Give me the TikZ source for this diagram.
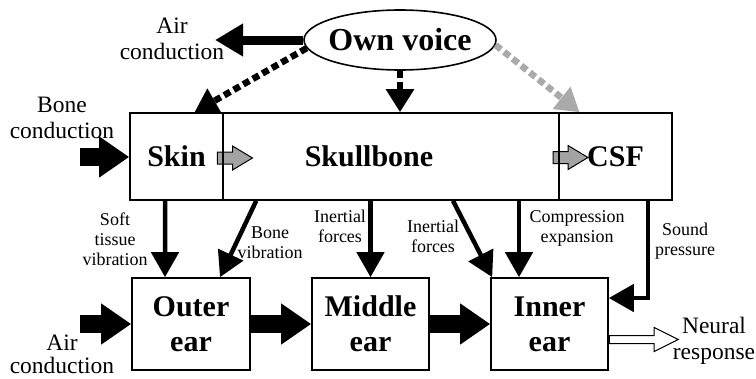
\documentclass[tikz,border=0pt]{standalone}
\usepackage{fontspec}
\setmainfont{Liberation Serif}
\usepackage{tikz}
\usetikzlibrary{arrows.meta,positioning,shapes.geometric,shapes.arrows}
\usepackage{xcolor}
\definecolor{flowgrey}{HTML}{A3A3A3}
\definecolor{dashgrey}{HTML}{AAAAAA}

\begin{document}
\begin{tikzpicture}[
  x=1bp, y=-1bp,
  every node/.style={inner sep=0pt},
  part/.style={draw, line width=1.6bp, align=center, font=\bfseries\fontsize{30bp}{35bp}\selectfont},
  path label/.style={align=center, font=\fontsize{18bp}{20bp}\selectfont},
  side label/.style={align=center, font=\fontsize{23.5bp}{26bp}\selectfont},
  conn/.style={line width=4.5bp, -{Triangle[length=25bp, width=27bp]}},
  block/.style={line width=18bp, -{Triangle[length=30bp, width=39bp]}},
  dashconn/.style={line width=6.5bp, dash pattern=on 7bp off 4bp, -{Triangle[length=23bp, width=27bp]}},
  flow/.style={single arrow, draw, line width=1bp, fill=flowgrey, text height=11bp,
    single arrow head extend=6bp, single arrow tip angle=62, minimum height=35bp}
]
  \useasboundingbox (0,0) rectangle (756,378);

  % gray transfer arrows (under the dividers)
  \node[flow] (skin2skull) at (230,158) {};
  \node[flow] (skull2csf) at (565.5,157.5) {};

  % source
  \node[ellipse, draw, line width=1.6bp, minimum width=192bp, minimum height=60bp,
        font=\bfseries\fontsize{32bp}{32bp}\selectfont] (voice) at (400,40) {\makebox[120bp]{Own voice}};

  % head tissues
  \node[part, minimum width=93bp, minimum height=87bp] (skin) at (176.5,156.5) {Skin};
  \node[part, minimum width=336bp, minimum height=87bp,
        label={[name=skulltxt, font=\bfseries\fontsize{30bp}{35bp}\selectfont, xshift=-22bp]center:Skullbone}] (skull) at (391,156.5) {};
  \node[part, minimum width=113bp, minimum height=87bp] (csf) at (615.5,156.5) {CSF};

  % ear
  \node[part, minimum width=118bp, minimum height=92bp] (outer) at (191,324) {Outer\\ear};
  \node[part, minimum width=117bp, minimum height=92bp] (middle) at (370.5,324) {Middle\\ear};
  \node[part, minimum width=117bp, minimum height=92bp] (inner) at (549.5,324) {Inner\\ear};

  % outside inputs and output
  \node[side label] (airtop) at (172,39) {Air\\conduction};
  \node[side label] (bonetxt) at (62,117.5) {Bone\\conduction};
  \node[side label, font=\fontsize{23.5bp}{23.5bp}\selectfont] (airbot) at (62,354.5) {Air\\conduction};
  \node[side label] (neural) at (714,340.5) {Neural\\response};

  \coordinate (airout) at (215,40);
  \coordinate (bonein) at (80,157);
  \coordinate (airin) at (80,324);

  \draw[line width=9bp, -{Triangle[length=28bp, width=31bp]}] (voice) -- (airout);
  \draw[dashconn] (voice.185) -- ([xshift=18bp]skin.north);
  \draw[dashconn] (voice) -- (voice |- skull.north);
  \draw[dashconn, dashgrey] (voice.357) -- ([xshift=-36bp]csf.north);

  \draw[block] (bonein) -- (bonein -| skin.west);
  \draw[block] (airin) -- (outer);
  \draw[block] (outer) -- (middle);
  \draw[block] (middle) -- (inner);
  \node[single arrow, draw, line width=1bp, fill=white, text height=7bp, single arrow head extend=8bp,
        single arrow tip angle=53, minimum height=69bp, anchor=tail] (neurarr) at ([yshift=-15.5bp]inner.east) {};

  % paths to the ear
  \coordinate (cmp) at ([xshift=-30.5bp]inner.north);
  \draw[conn] ([xshift=-11.5bp]skin.south) -- ([xshift=-26bp]outer.north);
  \draw[conn] ([xshift=34bp]skull.south west) -- ([xshift=29bp]outer.north);
  \draw[conn] (middle.north |- skull.south) -- (middle.north);
  \draw[conn] ([xshift=62bp]skull.south) -- ([xshift=2bp]inner.north west);
  \draw[conn] (cmp |- skull.south) -- (cmp);
  \draw[conn] ([xshift=32.5bp]csf.south) |- ([yshift=26bp]inner.east);

  \node[path label] (softlbl) at (115,239) {Soft\\tissue\\vibration};
  \node[path label] (bonelbl) at (270,243) {Bone\\vibration};
  \node[path label] (inertmid) at (340,226) {Inertial\\forces};
  \node[path label] (inertinn) at (433,236.5) {Inertial\\forces};
  \node[path label] (comprlbl) at (577,228.5) {Compression\\expansion};
  \node[path label] (soundlbl) at (685,241) {Sound\\pressure};
\end{tikzpicture}
\end{document}
